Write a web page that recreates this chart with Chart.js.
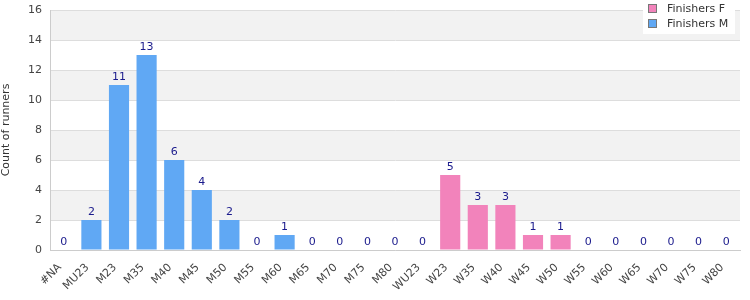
<!DOCTYPE html>
<html>
<head>
<meta charset="utf-8">
<script src="https://cdn.jsdelivr.net/npm/chart.js@4/dist/chart.umd.min.js"></script>
<style>
  html, body { margin: 0; padding: 0; background: #fff; }
  #wrap { width: 750px; height: 300px; }
</style>
</head>
<body>
<div id="wrap"><canvas id="chart" width="750" height="300"></canvas></div>
<script>
// age categories along the x axis
const categories = ["#NA", "MU23", "M23", "M35", "M40", "M45", "M50", "M55", "M60", "M65", "M70", "M75", "M80",
  "WU23", "W23", "W35", "W40", "W45", "W50", "W55", "W60", "W65", "W70", "W75", "W80"];

// finishers per category
const finishersF = [0, 0, 0, 0, 0, 0, 0, 0, 0, 0, 0, 0, 0, 0, 5, 3, 3, 1, 1, 0, 0, 0, 0, 0, 0];
const finishersM = [0, 2, 11, 13, 6, 4, 2, 0, 1, 0, 0, 0, 0, 0, 0, 0, 0, 0, 0, 0, 0, 0, 0, 0, 0];

const yTicks = [0, 2, 4, 6, 8, 10, 12, 14, 16];

const FONT = "'DejaVu Sans', Verdana, sans-serif";

// alternating grey bands behind the plot
const bands = {
  id: "bands",
  beforeDraw(chart) {
    const ctx = chart.ctx, y = chart.scales.y, area = chart.chartArea;
    ctx.save();
    ctx.fillStyle = "#f2f2f2";
    for (let i = 0; i < yTicks.length - 1; i++) {
      if (i % 2 === 1) {
        const top = y.getPixelForValue(yTicks[i + 1]);
        const bot = y.getPixelForValue(yTicks[i]);
        ctx.fillRect(area.left, top, area.right - area.left, bot - top);
      }
    }
    ctx.restore();
  }
};

// total value printed above each column
const totals = {
  id: "totals",
  afterDatasetsDraw(chart) {
    const ctx = chart.ctx, x = chart.scales.x, y = chart.scales.y;
    ctx.save();
    ctx.font = "11px " + FONT;
    ctx.fillStyle = "#1a1a8c";
    ctx.textAlign = "center";
    ctx.textBaseline = "bottom";
    categories.forEach((c, i) => {
      const v = finishersF[i] + finishersM[i];
      ctx.fillText(String(v), x.getPixelForValue(i), y.getPixelForValue(v) - 2);
    });
    ctx.restore();
  }
};

// legend box in the top right corner
const legendBox = {
  id: "legendBox",
  afterDraw(chart) {
    const ctx = chart.ctx;
    const x0 = 643, y0 = 0, w = 92, h = 34;
    ctx.save();
    ctx.fillStyle = "#ffffff";
    ctx.fillRect(x0, y0, w, h);
    ctx.font = "11px " + FONT;
    ctx.textBaseline = "middle";
    chart.data.datasets.forEach((ds, i) => {
      const cy = 8 + i * 15;
      ctx.fillStyle = ds.backgroundColor;
      ctx.fillRect(x0 + 5.5, cy - 3.5, 8, 8);
      ctx.strokeStyle = "#777";
      ctx.lineWidth = 1;
      ctx.strokeRect(x0 + 5.5, cy - 3.5, 8, 8);
      ctx.fillStyle = "#333";
      ctx.fillText(ds.label, x0 + 24, cy + 1);
    });
    ctx.restore();
  }
};

new Chart(document.getElementById("chart"), {
  type: "bar",
  data: {
    labels: categories,
    datasets: [
      { label: "Finishers F", data: finishersF, backgroundColor: "#f283bb", borderWidth: 0, stack: "s" },
      { label: "Finishers M", data: finishersM, backgroundColor: "#60a8f4", borderWidth: 0, stack: "s" }
    ]
  },
  options: {
    responsive: false,
    animation: false,
    layout: { padding: { top: 10, right: 10, left: 0, bottom: 0 } },
    datasets: { bar: { categoryPercentage: 1, barPercentage: 0.73 } },
    plugins: { legend: { display: false }, tooltip: { enabled: false } },
    scales: {
      x: {
        stacked: true,
        grid: { display: false },
        border: { color: "#cccccc" },
        ticks: {
          minRotation: 45, maxRotation: 45, autoSkip: false, labelOffset: -4,
          color: "#444", font: { family: FONT, size: 11 }, padding: 3
        },
        afterFit(s) { s.height = 50; s.paddingLeft = 0; s.paddingRight = 0; }
      },
      y: {
        stacked: true,
        min: 0, max: 16,
        afterBuildTicks(s) { s.ticks = yTicks.map(v => ({ value: v })); },
        grid: { color: "#dddddd", drawTicks: false },
        border: { color: "#cccccc" },
        ticks: { color: "#444", font: { family: FONT, size: 11 }, padding: 8 },
        title: { display: true, text: "Count of runners", color: "#333", font: { family: FONT, size: 11 }, padding: 0 },
        afterFit(s) { s.width = 50; s.paddingTop = 0; s.paddingBottom = 0; }
      }
    }
  },
  plugins: [bands, totals, legendBox]
});
</script>
</body>
</html>
